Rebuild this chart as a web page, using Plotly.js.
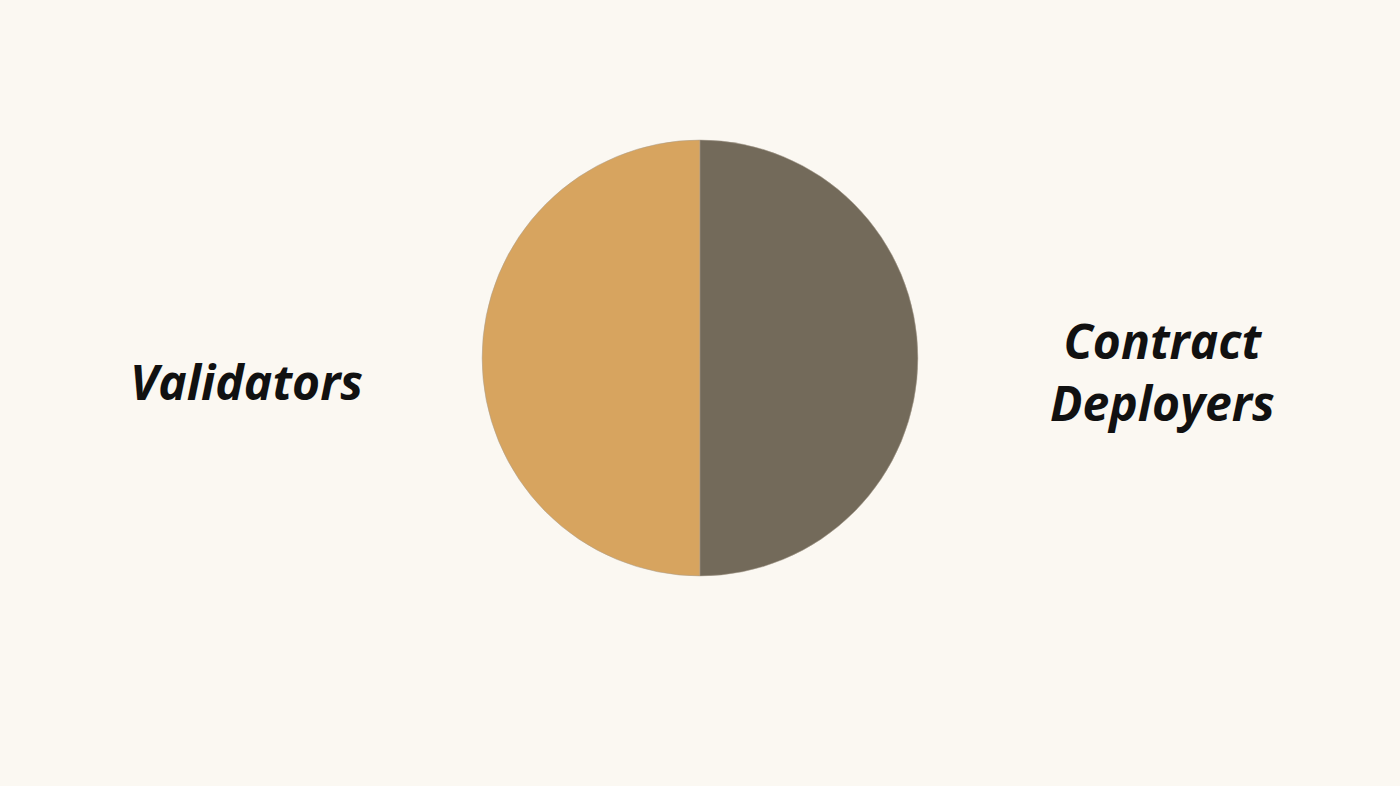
<!DOCTYPE html>
<html>
<head>
<meta charset="utf-8">
<script src="https://cdn.plot.ly/plotly-3.0.1.min.js"></script>
<style>
html,body{margin:0;padding:0;background:#FBF8F2;}
#chart{width:1400px;height:786px;}
</style>
</head>
<body>
<div id="chart"></div>
<script>
const labels = ['Validators', 'Contract Deployers'];
const values = [50, 50];
const colors = ['#D7A45F', '#736A5A'];
const labelLines = [['Validators'], ['Contract', 'Deployers']];

const trace = {
  type: 'pie',
  labels: labels,
  values: values,
  sort: false,
  direction: 'clockwise',
  rotation: 180,
  textinfo: 'none',
  hoverinfo: 'label+percent',
  marker: {colors: colors, line: {color: '#A89F90', width: 0.5}},
  domain: {x: [0.3443, 0.6557], y: [0.2672, 0.8219]},
  showlegend: false
};

const font = {family: '"Open Sans", Lato, sans-serif', size: 48, color: '#111111', weight: 'bold', style: 'italic'};

const layout = {
  width: 1400, height: 786,
  paper_bgcolor: '#FBF8F2',
  plot_bgcolor: '#FBF8F2',
  margin: {l: 0, r: 0, t: 0, b: 0},
  showlegend: false,
  annotations: [
    {text: labelLines[0].join('<br>'), x: 246/1400, y: 1 - 382/786, xref: 'paper', yref: 'paper', showarrow: false, font: font, xanchor: 'center', yanchor: 'middle'},
    {text: labelLines[1].join('<br>'), x: 1162/1400, y: 1 - 371/786, xref: 'paper', yref: 'paper', showarrow: false, font: font, xanchor: 'center', yanchor: 'middle', align: 'center'}
  ]
};

Plotly.newPlot('chart', [trace], layout, {displayModeBar: false});
</script>
</body>
</html>
